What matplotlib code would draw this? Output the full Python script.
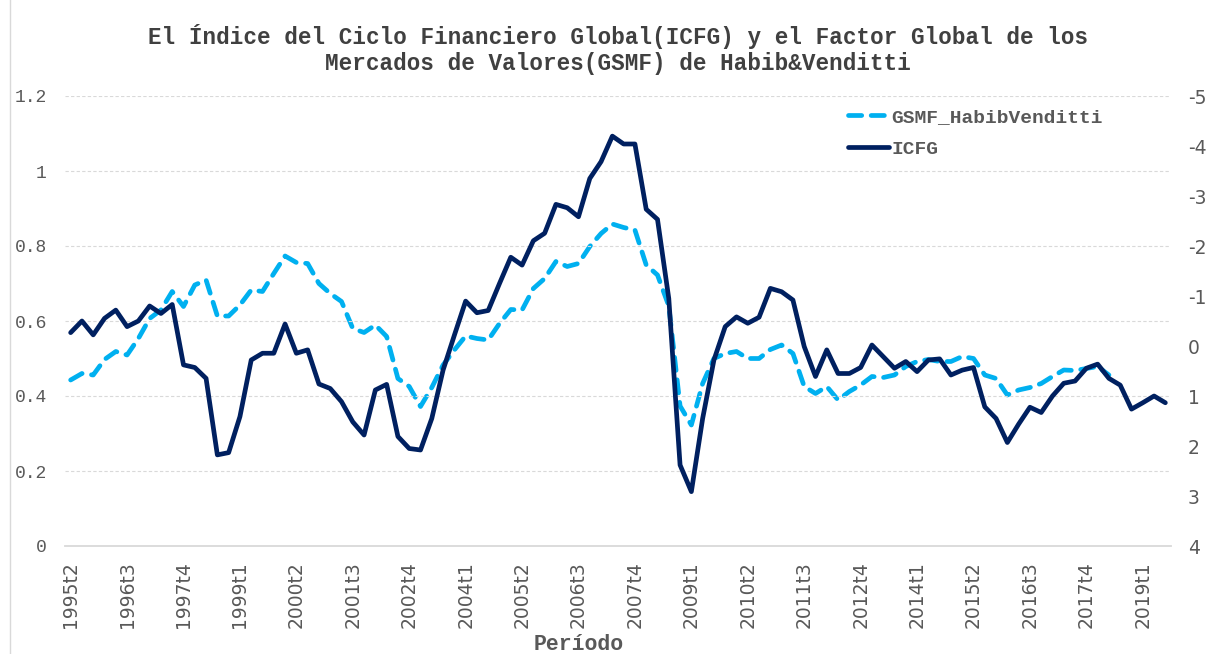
import matplotlib
matplotlib.use("Agg")
import matplotlib.pyplot as plt
from matplotlib.lines import Line2D
import numpy as np

plt.rcParams['axes.unicode_minus'] = False

# trimestres 1995t2 .. 2019t3
periodos = [f"{a}t{t}" for a in range(1995, 2020) for t in range(1, 5)][1:-1]

icfg = [0.569, 0.600, 0.563, 0.607, 0.629, 0.585, 0.600, 0.640, 0.620, 0.644,
        0.483, 0.476, 0.447, 0.243, 0.249, 0.345, 0.496, 0.514, 0.514, 0.592,
        0.514, 0.523, 0.432, 0.420, 0.385, 0.331, 0.296, 0.416, 0.431, 0.292,
        0.260, 0.256, 0.340, 0.469, 0.562, 0.653, 0.622, 0.628, 0.700, 0.770,
        0.749, 0.814, 0.834, 0.911, 0.902, 0.878, 0.980, 1.025, 1.093, 1.072,
        1.072, 0.898, 0.871, 0.660, 0.216, 0.145, 0.340, 0.496, 0.585, 0.611,
        0.594, 0.610, 0.687, 0.678, 0.656, 0.532, 0.452, 0.523, 0.460, 0.460,
        0.476, 0.536, 0.505, 0.474, 0.492, 0.465, 0.496, 0.499, 0.456, 0.469,
        0.476, 0.371, 0.340, 0.276, 0.325, 0.370, 0.356, 0.400, 0.434, 0.440,
        0.474, 0.485, 0.447, 0.429, 0.365, 0.382, 0.400, 0.382]

# GSMF (eje derecho, invertido); termina en 2018t2
gsmf = [0.68, 0.55, 0.58, 0.27, 0.11, 0.18, -0.15, -0.55, -0.72, -1.09,
        -0.79, -1.22, -1.32, -0.60, -0.60, -0.82, -1.12, -1.09, -1.45, -1.80,
        -1.67, -1.65, -1.25, -1.05, -0.89, -0.35, -0.27, -0.42, -0.19, 0.65,
        0.81, 1.21, 0.83, 0.38, 0.08, -0.20, -0.15, -0.12, -0.45, -0.73,
        -0.72, -1.15, -1.35, -1.69, -1.59, -1.65, -1.99, -2.25, -2.44, -2.37,
        -2.32, -1.62, -1.42, -0.80, 1.20, 1.58, 0.75, 0.25, 0.15, 0.11,
        0.25, 0.25, 0.07, -0.02, 0.15, 0.81, 0.95, 0.81, 1.08, 0.91,
        0.78, 0.61, 0.63, 0.58, 0.41, 0.31, 0.27, 0.31, 0.31, 0.21,
        0.25, 0.58, 0.65, 0.98, 0.88, 0.83, 0.75, 0.61, 0.48, 0.49,
        0.45, 0.41, 0.58]
gsmf = gsmf + [np.nan] * (len(periodos) - len(gsmf))

left_ticks = [0, 0.2, 0.4, 0.6, 0.8, 1.0, 1.2]
left_labels = ['0', '0.2', '0.4', '0.6', '0.8', '1', '1.2']
right_ticks = list(range(-5, 5))

gris = '#595959'
mono = 'Liberation Mono'

x = np.arange(len(periodos))

fig = plt.figure(figsize=(12.17, 6.54), dpi=100)
ax = fig.add_axes([65/1217, 1 - 546/654, 1106/1217, 450/654])
ax2 = ax.twinx()

l2, = ax2.plot(x, gsmf, color='#00B0F0', lw=3.4, dashes=(2.8, 2.0),
               dash_capstyle='round', label='GSMF_HabibVenditti')
l1, = ax.plot(x, icfg, color='#002060', lw=3.4, solid_joinstyle='round',
              solid_capstyle='round', label='ICFG')
ax.set_zorder(ax2.get_zorder() + 1)
ax.patch.set_visible(False)

ax.set_xlim(-0.5, len(periodos) - 0.5)
ax.set_ylim(0, 1.2)
ax2.set_ylim(4, -5)

for s in ['top', 'right', 'left']:
    ax.spines[s].set_visible(False)
for s in ax2.spines.values():
    s.set_visible(False)
ax.spines['bottom'].set_color('#D9D9D9')
ax.spines['bottom'].set_linewidth(1.3)

ax.set_yticks(left_ticks)
ax.set_yticklabels(left_labels, family=mono, fontsize=13, color=gris)
ax.yaxis.grid(True, color='#D9D9D9', linestyle=(0, (3, 2)), lw=0.8)
ax.tick_params(axis='y', length=0, pad=13)

ax.set_xticks(x[::5])
ax.set_xticklabels(periodos[::5], rotation=90, family='DejaVu Sans',
                   fontsize=13.5, color=gris)
ax.tick_params(axis='x', length=0, pad=11)

ax2.set_yticks(right_ticks)
ax2.set_yticklabels([str(t) for t in right_ticks], family='DejaVu Sans',
                    fontsize=13.5, color=gris)
ax2.tick_params(axis='y', length=0, pad=12)

leg = fig.legend(handles=[l2, l1], loc='upper left',
                 bbox_to_anchor=(848/1217, 1 - 108/654), frameon=False,
                 prop={'family': mono, 'size': 14, 'weight': 'bold'},
                 handlelength=2.1, handletextpad=0.15, labelspacing=0.75,
                 borderpad=0, borderaxespad=0)
for t in leg.get_texts():
    t.set_color(gris)

fig.text(618/1217, 1 - 49.5/654,
         "El Índice del Ciclo Financiero Global(ICFG) y el Factor Global de los\n"
         "Mercados de Valores(GSMF) de Habib&Venditti",
         ha='center', va='center', family=mono, weight='bold', fontsize=16.3,
         color='#404040', linespacing=1.2)

fig.text(579/1217, 1 - 645/654, 'Período', ha='center', va='center',
         family=mono, weight='bold', fontsize=15.5, color=gris)

fig.add_artist(Line2D([10/1217, 10/1217], [0, 1], color='#D9D9D9', lw=1))

fig.savefig('out.png', dpi=100)
